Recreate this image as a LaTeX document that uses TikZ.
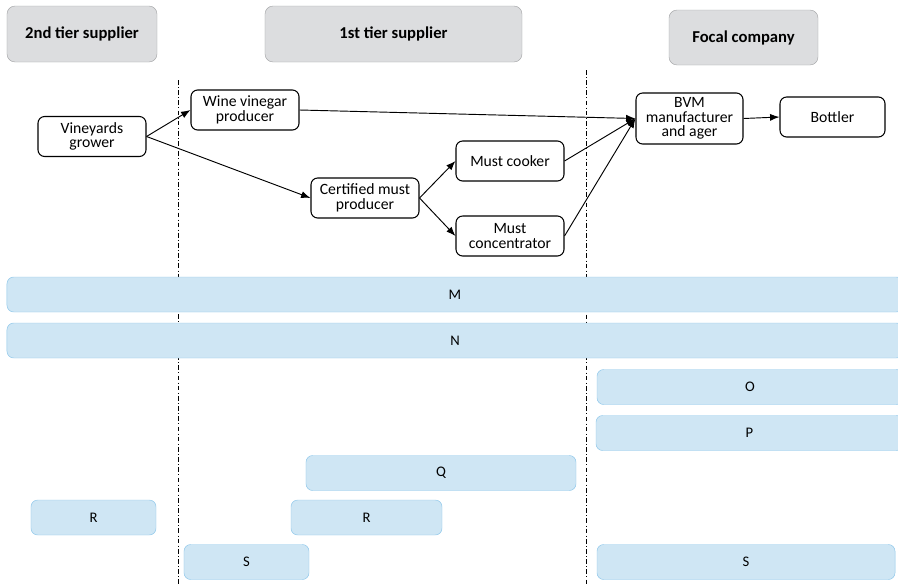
\documentclass[tikz,border=0pt]{standalone}
\usepackage{fontspec}
\setmainfont{Carlito}
\usetikzlibrary{arrows.meta}
\definecolor{tierfill}{HTML}{DCDDDF}
\definecolor{tierline}{HTML}{A3A4A6}
\definecolor{barfill}{HTML}{CFE6F4}
\definecolor{barline}{HTML}{8CC6EA}

\begin{document}
\begin{tikzpicture}[x=0.03cm,y=-0.03cm,
  tier/.style={draw=tierline,fill=tierfill,rounded corners=0.24cm,minimum height=1.68cm,font=\fontsize{14.2}{16}\selectfont\bfseries},
  actor/.style={draw,line width=0.9pt,rounded corners=0.2cm,minimum width=3.24cm,minimum height=1.2cm,inner sep=1pt,align=center,font=\fontsize{13.4}{12.4}\selectfont},
  bar/.style={draw=barline,fill=barfill,rounded corners=0.2cm,minimum height=1.05cm,font=\fontsize{12.5}{14}\selectfont},
  divider/.style={dash pattern=on 4pt off 2pt on 0.7pt off 2pt,line width=0.6pt},
  flow/.style={-{Latex[length=8pt,width=6pt]},line width=0.8pt}]
\useasboundingbox (0,0) rectangle (898,585);
\clip (0,0) rectangle (898,585);
% tiers
\node[tier,minimum width=4.5cm] (t2) at (82,34) {2nd tier supplier};
\node[tier,minimum width=7.71cm] (t1) at (393.5,34) {1st tier supplier};
\node[tier,minimum width=4.47cm,minimum height=1.65cm] (fc) at (743.5,37.5) {Focal company};
% borders between tiers
\draw[divider] (178,80) -- (178,585);
\draw[divider] (586,70) -- (586,585);
% actors
\node[actor] (vin) at (92,136.5) {Vineyards\\grower};
\node[actor] (wvp) at (245,110) {Wine vinegar\\producer};
\node[actor] (cmp) at (365,198) {Certified must\\producer};
\node[actor] (mck) at (510,161) {Must cooker};
\node[actor] (mcn) at (510,236) {Must\\concentrator};
\node[actor,minimum width=3.21cm,minimum height=1.53cm] (bvm) at (689.5,118.5) {BVM\\manufacturer\\and ager};
\node[actor,minimum width=3.15cm] (bot) at (832.5,117) {Bottler};
\draw[flow] (vin.east) -- (wvp.west);
\draw[flow] (vin.east) -- (cmp.west);
\draw[flow] (cmp.east) -- (mck.west);
\draw[flow] (cmp.east) -- (mcn.west);
\draw[flow] (wvp.east) -- (bvm.west);
\draw[flow] (mck.east) -- (bvm.west);
\draw[flow] (mcn.east) -- (bvm.west);
\draw[flow] (bvm.east) -- (bot.west);
% bars
\node[bar,minimum width=26.88cm] (m) at (455,294.5) {M};
\node[bar,minimum width=26.88cm] (n) at (455,340.5) {N};
\node[bar,minimum width=9.18cm] (o) at (750,387) {O};
\node[bar,minimum width=9.21cm] (p) at (749.5,433) {P};
\node[bar,minimum width=8.1cm] (q) at (441,473) {Q};
\node[bar,minimum width=3.75cm] (r1) at (93.5,517.5) {R};
\node[bar,minimum width=4.53cm] (r2) at (366.5,517.5) {R};
\node[bar,minimum width=3.75cm] (s1) at (246.5,562) {S};
\node[bar,minimum width=8.94cm] (s2) at (746,562) {S};
\end{tikzpicture}
\end{document}
